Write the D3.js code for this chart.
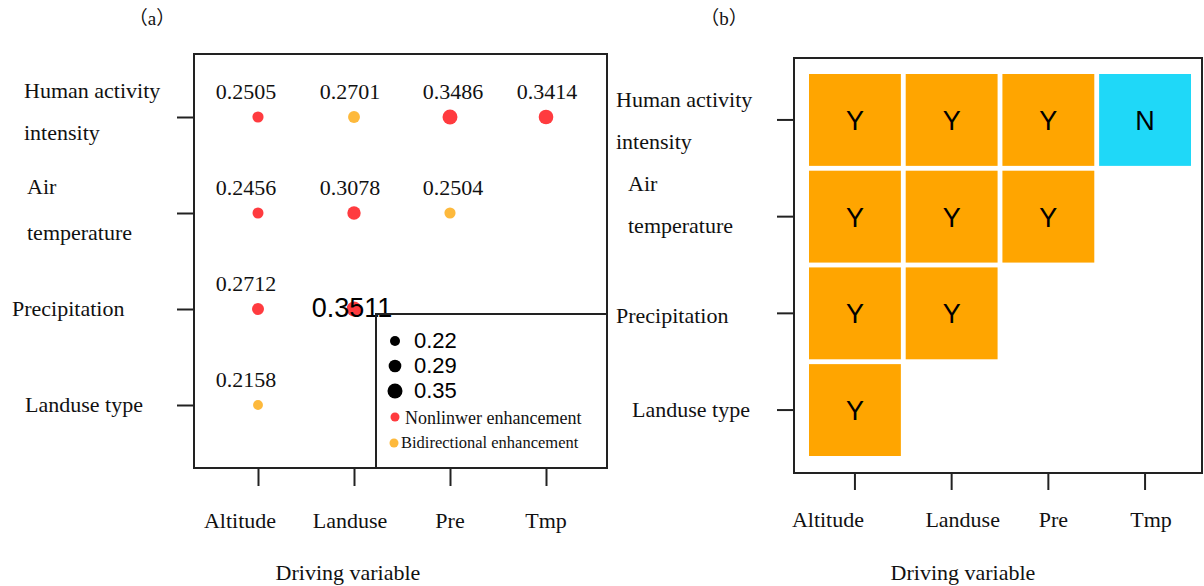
<!DOCTYPE html>
<html>
<head>
<meta charset="utf-8">
<script src="https://cdn.jsdelivr.net/npm/d3@7"></script>
<style>
  body { margin: 0; background: #fff; }
  svg { display: block; }
  .serif { font-family: 'Liberation Serif', 'Times New Roman', serif; fill: #111; }
  .sans { font-family: 'Liberation Sans', Arial, sans-serif; fill: #000; }
  .cjk { font-family: 'Noto Sans CJK SC', sans-serif; }
</style>
</head>
<body>
<svg id="chart" width="1204" height="586"></svg>
<script>
// Data
const rowNames = ['Human activity intensity', 'Air temperature', 'Precipitation', 'Landuse type']
const colNames = ['Altitude', 'Landuse', 'Pre', 'Tmp']
const qValues = [
    [0.2505, 0.2701, 0.3486, 0.3414],
    [0.2456, 0.3078, 0.2504],
    [0.2712, 0.3511],
    [0.2158]
]
// N = nonlinear enhancement, B = bidirectional enhancement
const interactionTypes = [
    ['N', 'B', 'N', 'N'],
    ['N', 'N', 'B'],
    ['N', 'N'],
    ['B']
]
const significance = [
    ['Y', 'Y', 'Y', 'N'],
    ['Y', 'Y', 'Y'],
    ['Y', 'Y'],
    ['Y']
]
const legendSizes = [0.22, 0.29, 0.35]
const legendTypes = [['N', 'Nonlinwer enhancement'], ['B', 'Bidirectional enhancement']]
const rowLabelLines = [['Human activity', 'intensity'], ['Air', 'temperature'], ['Precipitation'], ['Landuse type']]

// Presentation
const typeColor = { N: '#ff3b3f', B: '#fdb93c' }
const tileColor = { Y: '#ffa500', N: '#1fd8f8' }
const stroke = '#222'

const svg = d3.select('#chart')

const cells = qValues.flatMap((row, r) => row.map((v, c) => ({
    row: rowNames[r], col: colNames[c], r, c, value: v,
    type: interactionTypes[r][c], sig: significance[r][c]
})))

const radius = d3.scaleLinear().domain([0.22, 0.35]).range([5, 7.5])

function drawTitle(g, x, letter) {
    const t = g.append('text').attr('class', 'serif').attr('x', x).attr('y', 25)
        .attr('text-anchor', 'middle').attr('font-size', 19)
    t.append('tspan').attr('class', 'cjk').text('（')
    t.append('tspan').text(letter)
    t.append('tspan').attr('class', 'cjk').text('）')
}

function drawRowLabels(g, yPos, xStarts, lineOffsets) {
    rowNames.forEach((name, i) => {
        rowLabelLines[i].forEach((line, j) => {
            g.append('text').attr('class', 'serif')
                .attr('x', xStarts[i])
                .attr('y', yPos(name) + lineOffsets[i][j])
                .attr('font-size', 22)
                .text(line)
        })
    })
}

function styleAxis(s) {
    s.select('.domain').remove()
    s.selectAll('line').attr('stroke', stroke).attr('stroke-width', 2)
}

// ---------- Panel (a) ----------
const boxA = { left: 194, right: 607, top: 54, bottom: 468 }
const xa = d3.scalePoint().domain(colNames).range([258, 546])
const ya = d3.scalePoint().domain(rowNames).range([117, 405])
const ga = svg.append('g')

drawTitle(ga, 152, 'a')

ga.append('g').attr('transform', `translate(${boxA.left},0)`)
    .call(d3.axisLeft(ya).tickSize(17).tickSizeOuter(0).tickFormat(''))
    .call(styleAxis)

ga.append('g').attr('transform', `translate(0,${boxA.bottom})`)
    .call(d3.axisBottom(xa).tickSize(18).tickSizeOuter(0).tickFormat(''))
    .call(styleAxis)

const colLabelDxA = [-18, -4, 0, 0]
colNames.forEach((c, i) => {
    ga.append('text').attr('class', 'serif')
        .attr('x', xa(c) + colLabelDxA[i]).attr('y', 528)
        .attr('text-anchor', 'middle').attr('font-size', 22).text(c)
})
ga.append('text').attr('class', 'serif').attr('x', 348).attr('y', 580)
    .attr('text-anchor', 'middle').attr('font-size', 22).text('Driving variable')

drawRowLabels(ga, ya, [24, 27, 12, 25], [[-19, 23], [-19, 27], [7], [7]])

// points
ga.selectAll('circle.pt').data(cells).join('circle')
    .attr('class', 'pt')
    .attr('cx', d => xa(d.col))
    .attr('cy', d => ya(d.row))
    .attr('r', d => radius(d.value))
    .attr('fill', d => typeColor[d.type])

// value labels (the Precipitation x Landuse label is drawn large over its point)
const isBig = d => d.r === 2 && d.c === 1
const labelDxA = [-12, -4, 3, 1]
ga.selectAll('text.val').data(cells).join('text')
    .attr('class', d => isBig(d) ? 'val sans' : 'val serif')
    .attr('x', d => xa(d.col) + (isBig(d) ? -2 : labelDxA[d.c]))
    .attr('y', d => isBig(d) ? ya(d.row) + 8 : ya(d.row) - 18)
    .attr('text-anchor', 'middle')
    .attr('font-size', d => isBig(d) ? 27 : 22)
    .text(d => d3.format('.4f')(d.value))

// frame
ga.append('rect')
    .attr('x', boxA.left).attr('y', boxA.top)
    .attr('width', boxA.right - boxA.left).attr('height', boxA.bottom - boxA.top)
    .attr('fill', 'none').attr('stroke', stroke).attr('stroke-width', 2)

// legend
const legend = ga.append('g')
legend.append('rect').attr('x', 376).attr('y', 314)
    .attr('width', boxA.right - 376).attr('height', boxA.bottom - 314)
    .attr('fill', 'none').attr('stroke', stroke).attr('stroke-width', 2)
const legendY = d3.scalePoint().domain(legendSizes).range([341, 391])
legendSizes.forEach(v => {
    legend.append('circle').attr('cx', 395).attr('cy', legendY(v))
        .attr('r', radius(v)).attr('fill', '#000')
    legend.append('text').attr('class', 'sans').attr('x', 414).attr('y', legendY(v) + 7)
        .attr('font-size', 22).text(d3.format('.2f')(v))
})
const legendTypeY = d3.scalePoint().domain(legendTypes.map(d => d[0])).range([417, 443])
legendTypes.forEach(([t, label], i) => {
    legend.append('circle').attr('cx', 395 - i).attr('cy', legendTypeY(t))
        .attr('r', 4.5).attr('fill', typeColor[t])
    legend.append('text').attr('class', 'serif')
        .attr('x', i === 0 ? 405 : 401).attr('y', legendTypeY(t) + (i === 0 ? 7 : 5))
        .attr('font-size', i === 0 ? 18 : 16.5).text(label)
})

// ---------- Panel (b) ----------
const boxB = { left: 794, right: 1202, top: 58, bottom: 473 }
const xb = d3.scaleBand().domain(colNames).range([809, 1191]).paddingInner(0.05)
const yb = d3.scaleBand().domain(rowNames).range([74, 456]).paddingInner(0.05)
const gb = svg.append('g')

drawTitle(gb, 724, 'b')

gb.append('g').attr('transform', `translate(${boxB.left},0)`)
    .call(d3.axisLeft(yb).tickSize(17).tickSizeOuter(0).tickFormat(''))
    .call(styleAxis)

gb.append('g').attr('transform', `translate(0,${boxB.bottom})`)
    .call(d3.axisBottom(xb).tickSize(17).tickSizeOuter(0).tickFormat(''))
    .call(styleAxis)

const colLabelDxB = [-27, 11, 5, 6]
colNames.forEach((c, i) => {
    gb.append('text').attr('class', 'serif')
        .attr('x', xb(c) + xb.bandwidth() / 2 + colLabelDxB[i]).attr('y', 527)
        .attr('text-anchor', 'middle').attr('font-size', 22).text(c)
})
gb.append('text').attr('class', 'serif').attr('x', 963).attr('y', 580)
    .attr('text-anchor', 'middle').attr('font-size', 22).text('Driving variable')

const ybCenter = name => yb(name) + yb.bandwidth() / 2
drawRowLabels(gb, ybCenter, [616, 628, 616, 632], [[-13, 29], [-26, 16], [10], [7]])

gb.selectAll('rect.tile').data(cells).join('rect')
    .attr('class', 'tile')
    .attr('x', d => xb(d.col))
    .attr('y', d => yb(d.row))
    .attr('width', xb.bandwidth())
    .attr('height', yb.bandwidth())
    .attr('fill', d => tileColor[d.sig])

gb.selectAll('text.sig').data(cells).join('text')
    .attr('class', 'sig sans')
    .attr('x', d => xb(d.col) + xb.bandwidth() / 2)
    .attr('y', d => ybCenter(d.row) + 10)
    .attr('text-anchor', 'middle')
    .attr('font-size', 27)
    .text(d => d.sig)

gb.append('rect')
    .attr('x', boxB.left).attr('y', boxB.top)
    .attr('width', boxB.right - boxB.left).attr('height', boxB.bottom - boxB.top)
    .attr('fill', 'none').attr('stroke', stroke).attr('stroke-width', 2)
</script>
</body>
</html>
